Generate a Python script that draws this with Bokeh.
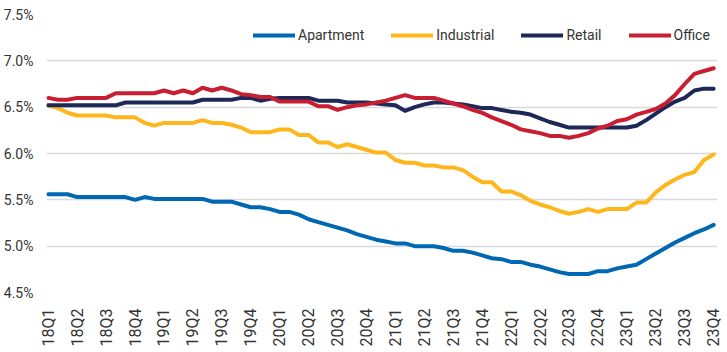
from bokeh.plotting import figure
from bokeh.models import FixedTicker, PrintfTickFormatter, Legend, LegendItem, Range1d
from bokeh.embed import file_html
from bokeh.resources import INLINE
import math

quarter_labels = [f"{y}Q{q}" for y in range(18, 24) for q in range(1, 5)]
months = list(range(70))

apartment = [5.56, 5.56, 5.56, 5.53, 5.53, 5.53, 5.53, 5.53, 5.53, 5.50,
             5.53, 5.51, 5.51, 5.51, 5.51, 5.51, 5.51, 5.48, 5.48, 5.48,
             5.45, 5.42, 5.42, 5.40, 5.37, 5.37, 5.34, 5.29, 5.26, 5.23,
             5.20, 5.17, 5.13, 5.10, 5.07, 5.05, 5.03, 5.03, 5.00, 5.00,
             5.00, 4.98, 4.95, 4.95, 4.93, 4.90, 4.87, 4.86, 4.83, 4.83,
             4.80, 4.78, 4.75, 4.72, 4.70, 4.70, 4.70, 4.73, 4.73, 4.76,
             4.78, 4.80, 4.86, 4.92, 4.98, 5.04, 5.09, 5.14, 5.18, 5.23]

industrial = [6.52, 6.49, 6.44, 6.41, 6.41, 6.41, 6.41, 6.39, 6.39, 6.39,
              6.33, 6.30, 6.33, 6.33, 6.33, 6.33, 6.36, 6.33, 6.33, 6.31,
              6.28, 6.23, 6.23, 6.23, 6.26, 6.26, 6.20, 6.20, 6.12, 6.12,
              6.07, 6.10, 6.07, 6.04, 6.01, 6.01, 5.93, 5.90, 5.90, 5.87,
              5.87, 5.85, 5.85, 5.82, 5.75, 5.69, 5.69, 5.59, 5.59, 5.55,
              5.49, 5.45, 5.42, 5.38, 5.35, 5.37, 5.40, 5.37, 5.40, 5.40,
              5.40, 5.47, 5.47, 5.58, 5.66, 5.72, 5.77, 5.80, 5.93, 5.99]

retail = [6.52, 6.52, 6.52, 6.52, 6.52, 6.52, 6.52, 6.52, 6.55, 6.55,
          6.55, 6.55, 6.55, 6.55, 6.55, 6.55, 6.58, 6.58, 6.58, 6.58,
          6.60, 6.60, 6.57, 6.59, 6.60, 6.60, 6.60, 6.60, 6.57, 6.57,
          6.57, 6.55, 6.55, 6.55, 6.54, 6.53, 6.52, 6.46, 6.50, 6.53,
          6.55, 6.55, 6.54, 6.53, 6.51, 6.49, 6.49, 6.47, 6.45, 6.44,
          6.42, 6.38, 6.34, 6.31, 6.28, 6.28, 6.28, 6.28, 6.28, 6.28,
          6.28, 6.30, 6.36, 6.43, 6.50, 6.56, 6.60, 6.68, 6.70, 6.70]

office = [6.60, 6.58, 6.58, 6.60, 6.60, 6.60, 6.60, 6.65, 6.65, 6.65,
          6.65, 6.65, 6.68, 6.65, 6.68, 6.65, 6.71, 6.68, 6.71, 6.68,
          6.64, 6.63, 6.61, 6.61, 6.56, 6.56, 6.56, 6.56, 6.51, 6.51,
          6.47, 6.50, 6.52, 6.53, 6.55, 6.57, 6.60, 6.63, 6.60, 6.60,
          6.60, 6.57, 6.54, 6.51, 6.47, 6.44, 6.39, 6.35, 6.31, 6.26,
          6.24, 6.22, 6.19, 6.19, 6.17, 6.19, 6.22, 6.27, 6.30, 6.35,
          6.37, 6.42, 6.45, 6.48, 6.54, 6.63, 6.75, 6.86, 6.89, 6.92]

series_names = ["Apartment", "Industrial", "Retail", "Office"]
series_values = [apartment, industrial, retail, office]
colors = ["#0068B2", "#FDB71D", "#1E2858", "#C81E32"]

FONT = "Roboto"
TEXT = "#333333"

p = figure(width=727, height=352, output_backend="svg", toolbar_location=None,
           x_range=Range1d(-0.18, 69.4), y_range=Range1d(4.5, 7.5),
           min_border_left=45, min_border_right=10, min_border_top=14,
           min_border_bottom=60)
p.outline_line_color = None
p.background_fill_color = "white"
p.border_fill_color = "white"

renderers = []
for name, vals, c in zip(series_names, series_values, colors):
    r = p.line(months, vals, line_color=c, line_width=4, line_join="round",
               line_cap="round")
    renderers.append((name, r))

# axes
p.xaxis.ticker = FixedTicker(ticks=list(range(0, 70, 3)))
p.xaxis.major_label_overrides = {i * 3: lab for i, lab in enumerate(quarter_labels)}
p.xaxis.major_label_orientation = math.pi / 2
p.xaxis.axis_line_color = None
p.xaxis.major_tick_line_color = None
p.xaxis.minor_tick_line_color = None
p.xaxis.major_label_standoff = 10
p.xaxis.major_label_text_font = FONT
p.xaxis.major_label_text_font_size = "16px"
p.xaxis.major_label_text_color = TEXT

p.yaxis.ticker = FixedTicker(ticks=[4.5, 5.0, 5.5, 6.0, 6.5, 7.0, 7.5])
p.yaxis.formatter = PrintfTickFormatter(format="%.1f%%")
p.yaxis.axis_line_color = None
p.yaxis.major_tick_line_color = None
p.yaxis.minor_tick_line_color = None
p.yaxis.major_label_standoff = 7
p.yaxis.major_label_text_font = FONT
p.yaxis.major_label_text_font_size = "14px"
p.yaxis.major_label_text_color = TEXT

p.xgrid.grid_line_color = None
p.ygrid.grid_line_color = "#dadada"
p.ygrid.grid_line_width = 1.5

legend = Legend(items=[LegendItem(label=n, renderers=[r]) for n, r in renderers],
                orientation="horizontal", location=(207, 247),
                glyph_width=42, glyph_height=20, label_standoff=3, spacing=27,
                padding=0, margin=0, border_line_color=None,
                background_fill_alpha=0,
                label_text_font=FONT, label_text_font_size="14px",
                label_text_color=TEXT)
p.add_layout(legend)

open("out.html", "w").write(file_html(p, INLINE))
